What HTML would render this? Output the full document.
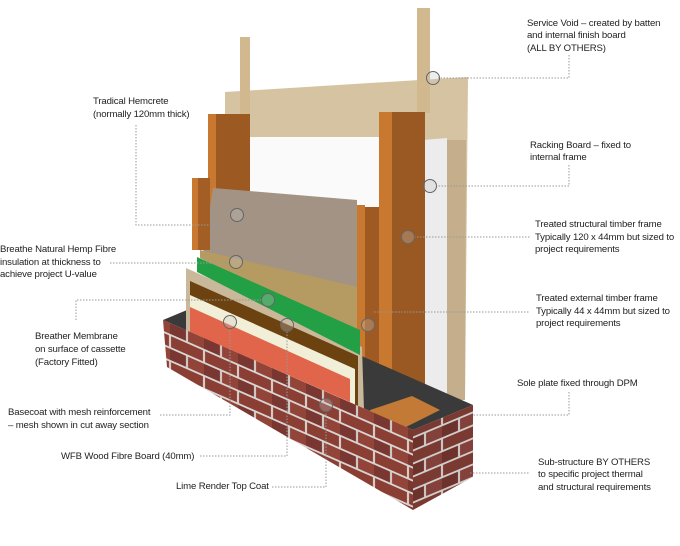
<!DOCTYPE html>
<html><head><meta charset="utf-8"><style>
html,body{margin:0;padding:0;background:#fff;}
svg{display:block;}
text{font-family:"Liberation Sans",sans-serif;font-size:9.6px;fill:#222;letter-spacing:-0.15px;}
</style></head><body>
<svg width="680" height="546" viewBox="0 0 680 546" xmlns="http://www.w3.org/2000/svg">
<defs>
<pattern id="brickF" width="34" height="26" patternUnits="userSpaceOnUse" patternTransform="matrix(1,0.44,0,1,0,0)">
<rect width="34" height="26" fill="#d8d4d0"/>
<rect x="1" y="1" width="32" height="11" fill="#8b3e34"/>
<rect x="-16" y="14" width="32" height="11" fill="#7a3630"/>
<rect x="18" y="14" width="32" height="11" fill="#924439"/>
</pattern>
<pattern id="brickR" width="34" height="26" patternUnits="userSpaceOnUse" patternTransform="matrix(1,-0.42,0,1,0,0)">
<rect width="34" height="26" fill="#d0ccc8"/>
<rect x="1" y="1" width="32" height="11" fill="#7a3a32"/>
<rect x="-16" y="14" width="32" height="11" fill="#6e322c"/>
<rect x="18" y="14" width="32" height="11" fill="#84403a"/>
</pattern>
</defs>
<!-- OSB racking board -->
<polygon points="225,92 468,77 465,400 430,395 430,140 250,140 250,120 225,120" fill="#d5c3a2"/>
<polygon points="447,140 466,140 465,400 447,400" fill="#c4ae8c"/>
<!-- battens -->
<rect x="240" y="37" width="10" height="80" fill="#d2b88f"/>
<rect x="417" y="8" width="13" height="105" fill="#d2b88f"/>
<!-- white panels -->
<rect x="250" y="137" width="130" height="125" fill="#fafafa"/>
<polygon points="423,140 447,138 447,402 423,400" fill="#ececec"/>
<!-- big posts -->
<rect x="208" y="114" width="8" height="140" fill="#c8782f"/>
<rect x="216" y="114" width="34" height="140" fill="#9c5a22"/>
<rect x="379" y="112" width="13" height="290" fill="#c8782f"/>
<rect x="392" y="112" width="33" height="290" fill="#9a5822"/>
<!-- hemcrete -->
<polygon points="213,188 357,200 357,290 203,253" fill="#a39384"/>
<!-- hemp mat -->
<polygon points="200,250 357,287 357,335 200,258" fill="#b59b62"/>
<!-- small posts -->
<rect x="192" y="178" width="6" height="72" fill="#c8782f"/>
<rect x="198" y="178" width="12" height="72" fill="#a25e24"/>
<rect x="357" y="205" width="8" height="198" fill="#c8782f"/>
<rect x="365" y="207" width="14" height="196" fill="#9e5a22"/>
<!-- brick top (DPM) -->
<polygon points="163,320 223,295 473,405 413,430" fill="#3a3a3a"/>
<!-- layers -->
<polygon points="186,268 362,347 364,410 186,332" fill="#c9b899"/>
<polygon points="190,281 358,356 358,407 190,332" fill="#6b4210"/>
<polygon points="190,295 355,369 355,405 190,332" fill="#f2efd9"/>
<polygon points="190,307 350,379 350,402 190,332" fill="#e0654a"/>
<polygon points="197,257 360,330 360,355 197,272" fill="#23a045"/>
<!-- sole plate -->
<polygon points="370,410 412,396 440,410 400,430 372,428" fill="#c27a36"/>
<!-- brick faces -->
<polygon points="163,320 413,430 413,510 167,367" fill="url(#brickF)"/>
<polygon points="413,430 473,405 473,477 413,510" fill="url(#brickR)"/>
<!-- leaders -->
<g stroke="#999" stroke-width="1" stroke-dasharray="1.5,1.5" fill="none">
<polyline points="569,55 569,78 438,78"/>
<polyline points="569,165 569,186 436,186"/>
<line x1="414" y1="237" x2="530" y2="237"/>
<line x1="374" y1="312" x2="530" y2="312"/>
<polyline points="569,392 569,415 473,415"/>
<line x1="470" y1="473" x2="530" y2="473"/>
<polyline points="136,125 136,225 230,225"/>
<line x1="110" y1="263" x2="230" y2="263"/>
<polyline points="76,320 76,300 262,300"/>
<polyline points="160,415 230,415 230,328"/>
<polyline points="200,456 287,456 287,331"/>
<polyline points="272,487 326,487 326,411"/>
</g>
<g stroke="#666" stroke-width="1" fill="rgba(200,200,200,0.3)">
<circle cx="433" cy="78" r="6.5"/><circle cx="430" cy="186" r="6.5"/>
<circle cx="408" cy="237" r="6.5"/><circle cx="368" cy="325" r="6.5"/>
<circle cx="326" cy="405" r="6.5"/><circle cx="287" cy="325" r="6.5"/>
<circle cx="230" cy="322" r="6.5"/><circle cx="268" cy="300" r="6.5"/>
<circle cx="236" cy="262" r="6.5"/><circle cx="237" cy="215" r="6.5"/>
</g>
<!-- right labels -->
<text x="527" y="26">Service Void – created by batten</text>
<text x="527" y="38">and internal finish board</text>
<text x="527" y="51">(ALL BY OTHERS)</text>
<text x="530" y="148">Racking Board – fixed to</text>
<text x="530" y="160">internal frame</text>
<text x="535" y="227">Treated structural timber frame</text>
<text x="535" y="240">Typically 120 x 44mm but sized to</text>
<text x="535" y="252">project requirements</text>
<text x="536" y="301">Treated external timber frame</text>
<text x="536" y="314">Typically 44 x 44mm but sized to</text>
<text x="536" y="326">project requirements</text>
<text x="517" y="386">Sole plate fixed through DPM</text>
<text x="538" y="465">Sub-structure BY OTHERS</text>
<text x="538" y="477">to specific project thermal</text>
<text x="538" y="490">and structural requirements</text>
<!-- left labels -->
<text x="93" y="104">Tradical Hemcrete</text>
<text x="93" y="117">(normally 120mm thick)</text>
<text x="0" y="252">Breathe Natural Hemp Fibre</text>
<text x="0" y="265">insulation at thickness to</text>
<text x="0" y="277">achieve project U-value</text>
<text x="35" y="339">Breather Membrane</text>
<text x="35" y="352">on surface of cassette</text>
<text x="35" y="365">(Factory Fitted)</text>
<text x="8" y="415">Basecoat with mesh reinforcement</text>
<text x="8" y="428">– mesh shown in cut away section</text>
<text x="61" y="459">WFB Wood Fibre Board (40mm)</text>
<text x="176" y="489">Lime Render Top Coat</text>
</svg>
</body></html>
